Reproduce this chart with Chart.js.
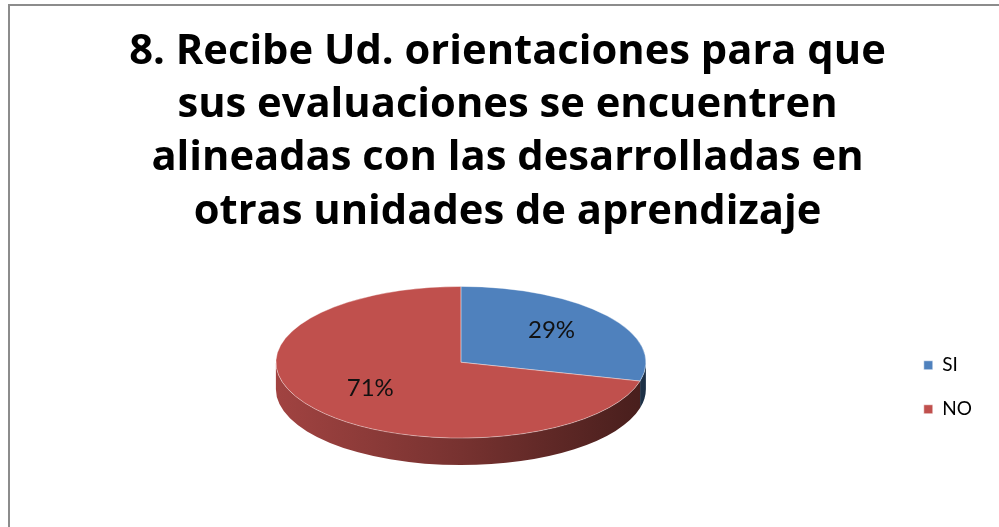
<!DOCTYPE html>
<html>
<head>
<meta charset="utf-8">
<script src="https://cdn.jsdelivr.net/npm/chart.js@4.4.1/dist/chart.umd.min.js"></script>
<style>
  html, body { margin: 0; padding: 0; background: #fff; }
  #wrap { position: relative; width: 999px; height: 527px; overflow: hidden; }
  #marco { position: absolute; left: 8px; top: 4px; width: 1200px; height: 800px;
           border-top: 2px solid #8c8c8c; border-left: 2px solid #8c8c8c; }
  canvas { position: absolute; left: 0; top: 0; }
</style>
</head>
<body>
<div id="wrap">
  <div id="marco"></div>
  <canvas id="grafico" width="999" height="527"></canvas>
</div>
<script>
const titulo = [
  '8. Recibe Ud. orientaciones para que',
  'sus evaluaciones se encuentren',
  'alineadas con las desarrolladas en',
  'otras unidades de aprendizaje'
];
const categorias = ['SI', 'NO'];
const valores = [29, 71];
const colores = ['#4F81BD', '#C0504D'];

// aspecto "3D" del pastel
const INCLINACION = 0.41;  // alto/ancho de la elipse
const GROSOR = 27;         // px de pared lateral
const DESPL_X = -5;
const DESPL_Y = -25;

function sombra(hex, f) {
  const n = parseInt(hex.slice(1), 16);
  const r = Math.round(((n >> 16) & 255) * f);
  const g = Math.round(((n >> 8) & 255) * f);
  const b = Math.round((n & 255) * f);
  return `rgb(${r},${g},${b})`;
}

const pastel3d = {
  id: 'pastel3d',
  beforeDatasetsDraw(chart) {
    const ctx = chart.ctx;
    const arcos = chart.getDatasetMeta(0).data;
    if (!arcos.length) return;
    const cx = arcos[0].x, cy = arcos[0].y;
    ctx.save();
    ctx.translate(cx + DESPL_X, cy + DESPL_Y);
    ctx.scale(1, INCLINACION);
    ctx.translate(-cx, -cy);
    const d = GROSOR / INCLINACION;
    arcos.forEach((arco, i) => {
      const {x, y, startAngle, endAngle, outerRadius: r} = arco.getProps(['x', 'y', 'startAngle', 'endAngle', 'outerRadius']);
      [0, 2 * Math.PI, -2 * Math.PI].forEach(k => {
        const a1 = Math.max(startAngle, k);
        const a2 = Math.min(endAngle, k + Math.PI);
        if (a2 <= a1) return;
        const grad = ctx.createLinearGradient(x - r, 0, x + r, 0);
        grad.addColorStop(0, sombra(colores[i], 0.84));
        grad.addColorStop(0.5, sombra(colores[i], 0.62));
        grad.addColorStop(1, sombra(colores[i], 0.37));
        ctx.beginPath();
        ctx.arc(x, y, r, a1, a2);
        ctx.arc(x, y + d, r, a2, a1, true);
        ctx.closePath();
        ctx.fillStyle = grad;
        ctx.fill();
      });
    });
  },
  afterDatasetsDraw(chart) {
    const ctx = chart.ctx;
    ctx.restore();
    const arcos = chart.getDatasetMeta(0).data;
    const total = valores.reduce((a, b) => a + b, 0);
    ctx.save();
    ctx.font = '24px Lato';
    ctx.fillStyle = '#111';
    ctx.textAlign = 'center';
    ctx.textBaseline = 'middle';
    arcos.forEach((arco, i) => {
      const {x, y, startAngle, endAngle, outerRadius: r} = arco.getProps(['x', 'y', 'startAngle', 'endAngle', 'outerRadius']);
      const m = (startAngle + endAngle) / 2;
      const px = x + DESPL_X + Math.cos(m) * r * 0.62;
      const py = y + DESPL_Y - 3 + Math.sin(m) * r * 0.62 * INCLINACION;
      ctx.fillText(Math.round(valores[i] / total * 100) + '%', px, py);
    });
    ctx.restore();
  }
};

new Chart(document.getElementById('grafico'), {
  type: 'pie',
  data: {
    labels: categorias,
    datasets: [{
      data: valores,
      backgroundColor: colores,
      borderColor: 'rgba(255,255,255,0.55)',
      borderWidth: 1
    }]
  },
  options: {
    responsive: false,
    animation: false,
    radius: 185,
    clip: false,
    layout: { padding: { left: 33, right: 17, top: 0, bottom: 1 } },
    plugins: {
      title: {
        display: true,
        text: titulo,
        color: '#000',
        font: { family: 'Open Sans', size: 41.7, weight: 'bold', lineHeight: 1.28 },
        padding: { top: 25, bottom: 10 }
      },
      legend: {
        position: 'right',
        fullSize: false,
        labels: {
          color: '#000',
          font: { family: 'Lato', size: 19 },
          boxWidth: 9,
          boxHeight: 9,
          padding: 25
        }
      },
      tooltip: { enabled: false }
    }
  },
  plugins: [pastel3d]
});
</script>
</body>
</html>
